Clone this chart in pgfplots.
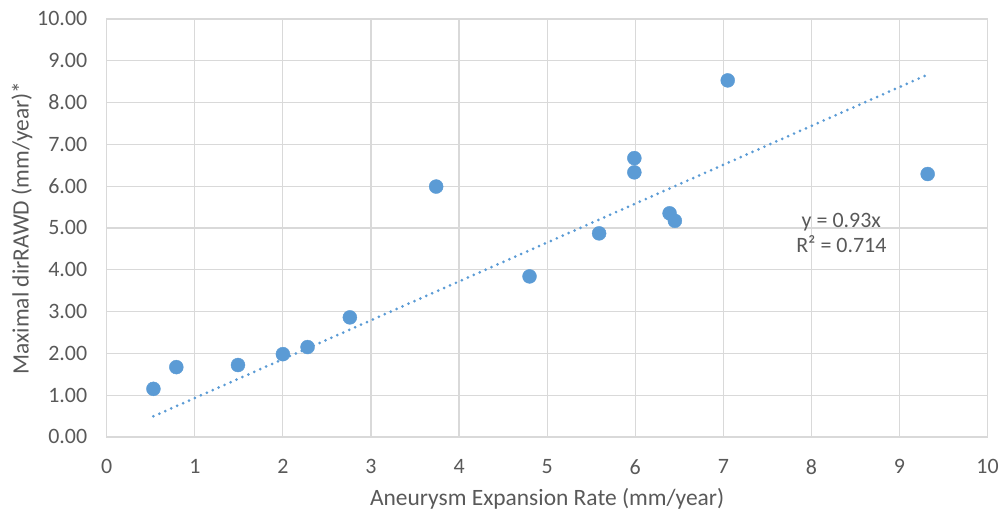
\documentclass[border=0pt]{standalone}
\usepackage{pgfplots}
\pgfplotsset{compat=1.18}
\usepackage{fontspec}
\setmainfont{Carlito}
\definecolor{txt}{HTML}{595959}
\definecolor{grd}{HTML}{D9D9D9}
\definecolor{pt}{HTML}{5B9BD5}
\begin{document}
\begin{tikzpicture}
\begin{axis}[
  scale only axis,
  width=883pt, height=419pt,
  xmin=0, xmax=10, ymin=0, ymax=10,
  xtick={0,1,...,10}, ytick={0,1,...,10},
  grid=major,
  grid style={grd, line width=1.2pt},
  axis line style={grd, line width=1.2pt},
  tick style={draw=none},
  font=\fontsize{22}{25}\selectfont,
  tick label style={txt},
  /pgf/number format/assume math mode=true,
  yticklabel style={xshift=-16pt, /pgf/number format/.cd, fixed, fixed zerofill, precision=2},
  xticklabel style={yshift=-19pt, /pgf/number format/.cd, fixed, precision=0},
  xlabel={Aneurysm Expansion Rate (mm/year)},
  ylabel={Maximal dirRAWD (mm/year)*},
  label style={txt, font=\fontsize{23.5}{26}\selectfont},
  xlabel style={at={(axis description cs:0.5,0)}, anchor=center, yshift=-62pt},
  ylabel style={at={(axis description cs:0,0.5)}, anchor=center, yshift=85pt},
  clip=false,
]
\addplot[only marks, mark=*, mark size=7pt, mark options={draw=pt, fill=pt}] coordinates {
(0.53,1.15) (0.79,1.67) (1.49,1.72) (2.00,1.98) (2.28,2.15) (2.76,2.86)
(3.74,5.99) (4.80,3.84) (5.59,4.87) (5.99,6.67) (5.99,6.33) (6.39,5.35)
(6.45,5.17) (7.05,8.53) (9.32,6.29)
};
\addplot[pt, line width=3pt, line cap=round, dash pattern=on 0pt off 6.5pt] coordinates {(0.53,0.493) (9.32,8.668)};
\node[txt, align=center, font=\fontsize{22}{25}\selectfont] at (axis cs:8.34,4.89) {y = 0.93x\\R² = 0.714};
\end{axis}
\path (current axis.south west) ++(-107pt,-74pt) rectangle ++(1002pt,512pt);
\end{tikzpicture}
\end{document}
